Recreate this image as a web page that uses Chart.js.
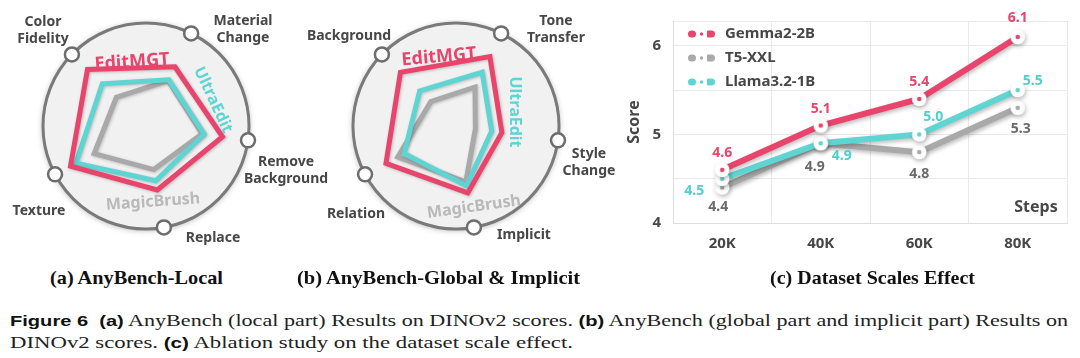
<!DOCTYPE html>
<html><head><meta charset="utf-8">
<script src="https://cdn.jsdelivr.net/npm/chart.js@4/dist/chart.umd.min.js"></script>
<style>
html,body{margin:0;padding:0;background:#fff;}
body{width:1080px;height:358px;position:relative;overflow:hidden;}
canvas{position:absolute;top:0;}
.cap{position:absolute;font-family:"Liberation Serif",serif;font-weight:bold;font-size:19px;line-height:20px;color:#111;white-space:nowrap;transform-origin:left center;}
.body{position:absolute;left:10px;font-family:"Liberation Serif",serif;font-size:16.5px;line-height:20px;color:#222;white-space:nowrap;transform-origin:left center;}
.body b{font-family:"Liberation Sans",sans-serif;font-weight:bold;font-size:15px;color:#111;}
</style></head>
<body>
<canvas id="ca" width="345" height="258" style="left:0"></canvas>
<canvas id="cb" width="330" height="258" style="left:300px"></canvas>
<canvas id="cc" width="460" height="258" style="left:620px"></canvas>
<div class="cap" data-w="173" style="left:50px;top:268px">(a) AnyBench-Local</div>
<div class="cap" data-w="283" style="left:297px;top:268px">(b) AnyBench-Global &amp; Implicit</div>
<div class="cap" data-w="205" style="left:770px;top:268px">(c) Dataset Scales Effect</div>
<div class="body" data-w="1058" style="top:311px"><b>Figure 6</b>&nbsp; <b>(a)</b> AnyBench (local part) Results on DINOv2 scores. <b>(b)</b> AnyBench (global part and implicit part) Results on</div>
<div class="body" data-w="563" style="top:333px">DINOv2 scores. <b>(c)</b> Ablation study on the dataset scale effect.</div>
<script>
// ---------- data ----------
const radarModels = ["EditMGT", "UltraEdit", "MagicBrush"];
const localAxes = [["Material", "Change"], ["Remove", "Background"], "Replace", "Texture", ["Color", "Fidelity"]];
const localEditMGT = [64, 75, 63, 83, 79];
const localUltraEdit = [50, 57, 54, 77, 59];
const localMagicBrush = [49, 55, 43, 57, 40];
const globalAxes = [["Tone", "Transfer"], ["Style", "Change"], "Implicit", "Relation", "Background"];
const globalEditMGT = [75, 45, 66, 77, 75];
const globalUltraEdit = [58, 35, 59, 57, 49];
const globalMagicBrush = [42, 19, 55, 64, 34];

const steps = ["20K", "40K", "60K", "80K"];
const lineModels = ["Gemma2-2B", "T5-XXL", "Llama3.2-1B"];
const gemma = [4.6, 5.1, 5.4, 6.1];
const t5 = [4.4, 4.9, 4.8, 5.3];
const llama = [4.5, 4.9, 5.0, 5.5];
const scoreTicks = [4, 5, 6];

// ---------- style ----------
const RED = '#e9446b', CYAN = '#5fd5d3', GRAY = '#a9a9a9';
const FONT = '"Noto Sans", "DejaVu Sans", sans-serif';
const radarColors = [RED, CYAN, GRAY];
const nameColors = [RED, CYAN, '#b9b9b9'];

const radarDeco = {
  id: 'radarDeco',
  beforeDatasetsDraw(chart, args, o) {
    const s = chart.scales.r, ctx = chart.ctx;
    ctx.save();
    ctx.shadowColor = 'rgba(0,0,0,0.35)'; ctx.shadowBlur = 6; ctx.shadowOffsetY = 1;
    ctx.beginPath(); ctx.arc(s.xCenter, s.yCenter, s.drawingArea, 0, Math.PI * 2);
    ctx.fillStyle = '#f1f1f1'; ctx.fill();
    ctx.shadowColor = 'transparent';
    ctx.lineWidth = 3; ctx.strokeStyle = '#7a7a7a'; ctx.stroke();
    ctx.restore();
    ctx.save();
    ctx.shadowColor = 'rgba(0,0,0,0.22)'; ctx.shadowBlur = 3; ctx.shadowOffsetX = 1; ctx.shadowOffsetY = 1;
  },
  afterDatasetsDraw(chart, args, o) {
    const ctx = chart.ctx; ctx.restore();
    const s = chart.scales.r;
    chart.data.labels.forEach((lab, i) => {
      const p = s.getPointPosition(i, s.drawingArea);
      ctx.save();
      ctx.beginPath(); ctx.arc(p.x, p.y, 7, 0, Math.PI * 2);
      ctx.fillStyle = '#fff'; ctx.fill();
      ctx.lineWidth = 2.5; ctx.strokeStyle = '#6d6d6d'; ctx.stroke();
      const lines = Array.isArray(lab) ? lab : [lab];
      const [dx, dy] = o.labelPos[i];
      ctx.font = 'bold 14px ' + FONT; ctx.fillStyle = '#474747';
      ctx.textAlign = 'center'; ctx.textBaseline = 'middle';
      lines.forEach((t, k) => ctx.fillText(t, s.xCenter + dx, s.yCenter + dy + (k - (lines.length - 1) / 2) * 17));
      ctx.restore();
    });
    chart.data.datasets.forEach((d, i) => {
      const [dx, dy, rot, size] = o.namePos[i];
      ctx.save();
      ctx.translate(s.xCenter + dx, s.yCenter + dy); ctx.rotate(rot * Math.PI / 180);
      ctx.font = 'bold ' + size + 'px ' + FONT; ctx.fillStyle = nameColors[i];
      ctx.textAlign = 'center'; ctx.textBaseline = 'middle';
      ctx.fillText(d.label, 0, 0);
      ctx.restore();
    });
  }
};

function radarConfig(axes, series, cx, labelPos, namePos) {
  return {
    type: 'radar',
    data: {
      labels: axes,
      datasets: radarModels.map((m, i) => ({
        label: m, data: series[i], borderColor: radarColors[i], backgroundColor: 'transparent',
        fill: false, borderWidth: 5, pointRadius: 0, borderJoinStyle: 'miter'
      }))
    },
    options: {
      responsive: false, animation: false, events: [],
      plugins: { legend: { display: false }, tooltip: { enabled: false },
        radarDeco: { labelPos, namePos } },
      scales: {
        r: {
          min: 0, max: 100, startAngle: 26,
          ticks: { display: false }, grid: { display: false }, angleLines: { display: false },
          pointLabels: { display: false },
          afterFit: s => { s.xCenter = cx; s.yCenter = 126; s.drawingArea = 103; }
        }
      }
    },
    plugins: [radarDeco]
  };
}

new Chart(document.getElementById('ca'), radarConfig(localAxes,
  [localEditMGT, localUltraEdit, localMagicBrush], 146,
  [[97, -96], [140, 45], [67, 112], [-107, 85], [-103, -95]],
  [[-14, -64, -4, 18], [67, -26, 65, 16], [7, 76, -4, 16]]));

new Chart(document.getElementById('cb'), radarConfig(globalAxes,
  [globalEditMGT, globalUltraEdit, globalMagicBrush], 156,
  [[100, -96], [133, 37], [68, 109], [-100, 88], [-107, -90]],
  [[-17, -69, -5, 18], [59, -14, 90, 16], [18, 81, -8, 16]]));

// ---------- line chart ----------
function pointImg(color) {
  const c = document.createElement('canvas'); c.width = 20; c.height = 20;
  const g = c.getContext('2d');
  g.beginPath(); g.arc(10, 10, 7.3, 0, Math.PI * 2); g.fillStyle = '#fff'; g.fill();
  g.beginPath(); g.arc(10, 10, 2.3, 0, Math.PI * 2); g.fillStyle = color; g.fill();
  return c;
}
const lineColors = [RED, GRAY, CYAN];
const labelColors = [RED, '#6a6a6a', '#4fcfcd'];
const labelOffsets = [
  [[0, -17], [0, -17], [0, -17], [0, -19]],
  [[-4, 19], [-6, 24], [0, 22], [3, 21]],
  [[-28, 12], [21, 13], [14, -17], [15, -9]]
];

const lineDeco = {
  id: 'lineDeco',
  beforeDatasetsDraw(chart) {
    const ctx = chart.ctx; ctx.save();
    ctx.shadowColor = 'rgba(0,0,0,0.28)'; ctx.shadowBlur = 4; ctx.shadowOffsetX = 1; ctx.shadowOffsetY = 2;
  },
  afterDatasetsDraw(chart) {
    const ctx = chart.ctx; ctx.restore();
    const a = chart.chartArea;
    ctx.save();
    ctx.textAlign = 'center'; ctx.textBaseline = 'middle';
    chart.data.datasets.forEach((d, i) => {
      const meta = chart.getDatasetMeta(i);
      ctx.font = 'bold 14px ' + FONT; ctx.fillStyle = labelColors[i];
      meta.data.forEach((pt, j) => {
        const [dx, dy] = labelOffsets[i][j];
        ctx.fillText(d.data[j].toFixed(1), pt.x + dx, pt.y + dy);
      });
      // legend
      const ly = a.top + 13 + i * 24, lx = a.left + 15;
      ctx.fillStyle = lineColors[i];
      ctx.beginPath(); ctx.roundRect(lx, ly - 3.5, 8, 7, 3.5); ctx.fill();
      ctx.beginPath(); ctx.arc(lx + 13.5, ly, 1.7, 0, Math.PI * 2); ctx.fill();
      ctx.beginPath(); ctx.roundRect(lx + 19, ly - 3.5, 8, 7, [1, 3.5, 3.5, 1]); ctx.fill();
      ctx.font = 'bold 15px ' + FONT; ctx.fillStyle = '#474747'; ctx.textAlign = 'left';
      ctx.fillText(d.label, a.left + 52, ly);
      ctx.textAlign = 'center';
    });
    ctx.font = 'bold 16px ' + FONT; ctx.fillStyle = '#474747';
    ctx.fillText('Steps', a.right - 31, a.bottom - 16);
    ctx.restore();
  }
};

const tickFont = { family: FONT, size: 15, weight: 'bold' };
new Chart(document.getElementById('cc'), {
  type: 'line',
  data: {
    labels: steps,
    datasets: [gemma, t5, llama].map((vals, i) => ({
      label: lineModels[i], data: vals, borderColor: lineColors[i], borderWidth: 6,
      pointStyle: pointImg(lineColors[i]), pointRadius: 7, tension: 0,
      order: [0, 2, 1][i]
    }))
  },
  options: {
    responsive: false, animation: false, events: [],
    layout: { padding: { top: 20, right: 13, left: 0, bottom: 0 } },
    plugins: { legend: { display: false }, tooltip: { enabled: false } },
    scales: {
      x: {
        offset: true,
        grid: { offset: true, color: '#e9e9e9', drawTicks: false },
        border: { color: '#dedede' },
        ticks: { padding: 12, color: '#474747', font: tickFont },
        afterFit: s => { s.height = 35; }
      },
      y: {
        min: 4, max: 6.28,
        grid: { color: '#e9e9e9', drawTicks: false },
        border: { color: '#dedede' },
        ticks: { stepSize: 0.5, padding: 12, color: '#474747', font: tickFont,
          callback: v => { const t = scoreTicks.find(k => Math.abs(k - v) < 1e-6); return t === undefined ? '' : String(t); } },
        title: { display: true, text: 'Score', color: '#474747', font: { family: FONT, size: 16, weight: 'bold' }, padding: { top: 5, bottom: 0 } },
        afterFit: s => { s.width = 53; }
      }
    }
  },
  plugins: [lineDeco]
});

// ---------- caption fitting ----------
function fitText() {
  document.querySelectorAll('[data-w]').forEach(el => {
    el.style.transform = 'none';
    const w = el.getBoundingClientRect().width;
    el.style.transform = 'scaleX(' + (parseFloat(el.dataset.w) / w) + ')';
  });
}
fitText();
if (document.fonts && document.fonts.ready) document.fonts.ready.then(fitText);
</script>
</body></html>
